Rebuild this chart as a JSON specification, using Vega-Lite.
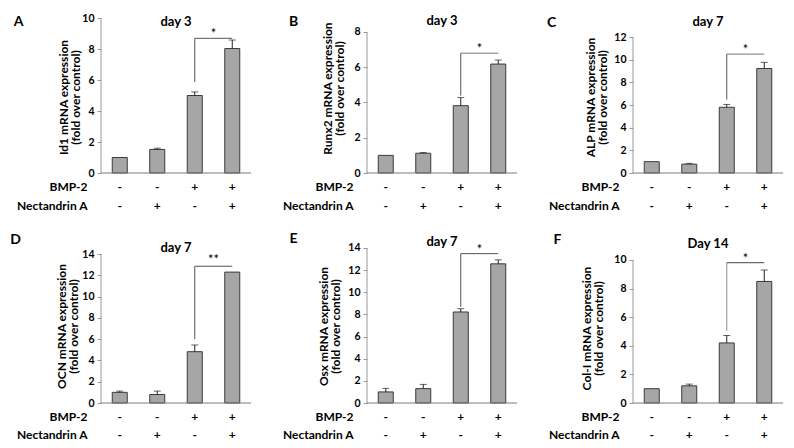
{
  "$schema": "https://vega.github.io/schema/vega-lite/v6.json",
  "autosize": {"type": "none"},
  "padding": {"left": 101, "top": 17, "right": 693, "bottom": 431},
  "background": "white",
  "columns": 3,
  "bounds": "flush",
  "spacing": {"row": 74, "column": 116},
  "datasets": {
    "bars": [
      {"panel": "A", "cond": "-|-", "mean": 1.0, "hi": 1.0},
      {"panel": "A", "cond": "-|+", "mean": 1.52, "hi": 1.6},
      {"panel": "A", "cond": "+|-", "mean": 5.0, "hi": 5.23},
      {"panel": "A", "cond": "+|+", "mean": 8.03, "hi": 8.58},
      {"panel": "B", "cond": "-|-", "mean": 1.0, "hi": 1.0},
      {"panel": "B", "cond": "-|+", "mean": 1.12, "hi": 1.16},
      {"panel": "B", "cond": "+|-", "mean": 3.82, "hi": 4.28},
      {"panel": "B", "cond": "+|+", "mean": 6.18, "hi": 6.41},
      {"panel": "C", "cond": "-|-", "mean": 1.0, "hi": 1.0},
      {"panel": "C", "cond": "-|+", "mean": 0.78, "hi": 0.85},
      {"panel": "C", "cond": "+|-", "mean": 5.8, "hi": 6.05},
      {"panel": "C", "cond": "+|+", "mean": 9.22, "hi": 9.76},
      {"panel": "D", "cond": "-|-", "mean": 1.0, "hi": 1.12},
      {"panel": "D", "cond": "-|+", "mean": 0.8, "hi": 1.12},
      {"panel": "D", "cond": "+|-", "mean": 4.82, "hi": 5.45},
      {"panel": "D", "cond": "+|+", "mean": 12.3, "hi": 12.3},
      {"panel": "E", "cond": "-|-", "mean": 1.0, "hi": 1.32},
      {"panel": "E", "cond": "-|+", "mean": 1.3, "hi": 1.68},
      {"panel": "E", "cond": "+|-", "mean": 8.22, "hi": 8.52},
      {"panel": "E", "cond": "+|+", "mean": 12.57, "hi": 12.93},
      {"panel": "F", "cond": "-|-", "mean": 1.0, "hi": 1.0},
      {"panel": "F", "cond": "-|+", "mean": 1.2, "hi": 1.32},
      {"panel": "F", "cond": "+|-", "mean": 4.2, "hi": 4.72},
      {"panel": "F", "cond": "+|+", "mean": 8.5, "hi": 9.3}
    ],
    "sig": [
      {"panel": "A", "v0": 5.87, "h": 8.69, "star": "*", "day": "day 3"},
      {"panel": "B", "v0": 4.39, "h": 6.8, "star": "*", "day": "day  3"},
      {"panel": "C", "v0": 6.48, "h": 10.49, "star": "*", "day": "day 7"},
      {"panel": "D", "v0": 6.0, "h": 12.85, "star": "**", "day": "day 7"},
      {"panel": "E", "v0": 8.69, "h": 13.49, "star": "*", "day": "day 7"},
      {"panel": "F", "v0": 5.05, "h": 9.81, "star": "*", "day": "Day 14"}
    ]
  },
  "config": {
    "font": "Lato",
    "view": {"stroke": null},
    "text": {"font": "Lato", "color": "#000"},
    "axis": {"labelFont": "Lato", "titleFont": "Lato", "labelFontWeight": "bold", "titleFontWeight": "bold", "labelColor": "#000", "titleColor": "#000", "grid": false, "domainColor": "#9a9a9a", "tickColor": "#9a9a9a", "labelOverlap": false}
  },
  "concat": [
    {
      "width": 150, "height": 156,
      "resolve": {"scale": {"x": "independent"}, "axis": {"y": "independent"}},
      "layer": [
        {"data": {"name": "bars"}, "transform": [{"filter": "datum.panel == 'A'"}],
         "mark": {"type": "bar", "fill": "#a6a6a6", "stroke": "#3a3a3a", "strokeWidth": 1},
         "encoding": {
           "x": {"field": "cond", "type": "nominal", "scale": {"type": "band", "domain": ["-|-", "-|+", "+|-", "+|+"], "paddingInner": 0.6, "paddingOuter": 0.3},
                 "axis": {"title": ["BMP-2", "Nectandrin A"], "labelExpr": "split(datum.label, '|')", "domain": false, "ticks": false, "grid": false, "labelAngle": 0, "labelFont": "Lato", "labelFontWeight": "bold", "labelFontSize": 12, "labelColor": "#000", "labelLineHeight": 18.5, "labelPadding": 8.5, "titleFont": "Lato", "titleFontWeight": "bold", "titleFontSize": 12, "titleColor": "#000", "titleLineHeight": 18.5, "titleAlign": "right", "titleBaseline": "top", "titleAngle": 0, "titleX": -14, "titleY": 8.5}},
           "y": {"field": "mean", "type": "quantitative", "scale": {"domain": [0, 10.065], "nice": false},
                 "axis": {"values": [0, 2, 4, 6, 8, 10], "labelOverlap": false, "domain": false, "ticks": true, "tickSize": 4, "tickColor": "#9a9a9a", "grid": false, "labelFont": "Lato", "labelFontWeight": "bold", "labelFontSize": 10.5, "labelColor": "#000", "labelPadding": 3, "title": ["Id1 mRNA expression", "(fold over control)"], "titleFont": "Lato", "titleFontWeight": "bold", "titleFontSize": 12, "titleColor": "#000", "titleLineHeight": 12, "titleAngle": 270, "titleAlign": "center", "titleBaseline": "middle", "titleX": -38, "titleY": 80}}}},
        {"data": {"name": "sig"}, "transform": [{"filter": "datum.panel == 'A'"}],
         "mark": {"type": "rule", "color": "#9a9a9a"},
         "encoding": {"x": {"datum": 0, "type": "quantitative", "scale": {"domain": [0, 1]}, "axis": null}, "y": {"datum": 0, "type": "quantitative", "axis": null}, "y2": {"datum": 10}}},
        {"data": {"name": "sig"}, "transform": [{"filter": "datum.panel == 'A'"}],
         "mark": {"type": "rule", "color": "#7a7a7a"},
         "encoding": {"x": {"datum": 0, "type": "quantitative", "scale": {"domain": [0, 1]}, "axis": null}, "x2": {"datum": 1}, "y": {"datum": 0, "type": "quantitative", "axis": null}}},
        {"data": {"name": "bars"}, "transform": [{"filter": "datum.panel == 'A' && datum.hi > datum.mean"}],
         "mark": {"type": "rule", "color": "#222"},
         "encoding": {
           "x": {"field": "cond", "type": "nominal", "scale": {"type": "band", "domain": ["-|-", "-|+", "+|-", "+|+"], "paddingInner": 0.6, "paddingOuter": 0.3}, "axis": {"orient": "top", "title": "A", "titleX": -83, "titleY": 4, "labels": false, "ticks": false, "domain": false, "grid": false, "titleFont": "Lato", "titleFontWeight": "bold", "titleFontSize": 14, "titleColor": "#000", "titleAngle": 0, "titleAlign": "center", "titleBaseline": "middle"}},
           "y": {"field": "mean", "type": "quantitative", "axis": null}, "y2": {"field": "hi"}}},
        {"data": {"name": "bars"}, "transform": [{"filter": "datum.panel == 'A' && datum.hi > datum.mean"}],
         "mark": {"type": "tick", "orient": "horizontal", "size": 7, "thickness": 1, "color": "#222"},
         "encoding": {"x": {"field": "cond", "type": "nominal", "scale": {"type": "band", "domain": ["-|-", "-|+", "+|-", "+|+"], "paddingInner": 0.6, "paddingOuter": 0.3}, "axis": null}, "y": {"field": "hi", "type": "quantitative", "axis": null}}},
        {"data": {"name": "sig"}, "transform": [{"filter": "datum.panel == 'A'"}],
         "mark": {"type": "rule", "color": "#555"},
         "encoding": {"x": {"datum": "+|-", "type": "nominal", "bandPosition": 0.5, "scale": {"type": "band", "domain": ["-|-", "-|+", "+|-", "+|+"], "paddingInner": 0.6, "paddingOuter": 0.3}, "axis": null}, "y": {"field": "v0", "type": "quantitative", "axis": null}, "y2": {"field": "h"}}},
        {"data": {"name": "sig"}, "transform": [{"filter": "datum.panel == 'A'"}],
         "mark": {"type": "rule", "color": "#555"},
         "encoding": {"x": {"datum": "+|-", "type": "nominal", "bandPosition": 0.5, "scale": {"type": "band", "domain": ["-|-", "-|+", "+|-", "+|+"], "paddingInner": 0.6, "paddingOuter": 0.3}, "axis": null}, "x2": {"datum": "+|+", "bandPosition": 0.5}, "y": {"field": "h", "type": "quantitative", "axis": null}}},
        {"data": {"name": "sig"}, "transform": [{"filter": "datum.panel == 'A'"}],
         "mark": {"type": "text", "fontSize": 13, "baseline": "alphabetic"},
         "encoding": {"x": {"datum": "+|-", "type": "nominal", "bandPosition": 1.75, "scale": {"type": "band", "domain": ["-|-", "-|+", "+|-", "+|+"], "paddingInner": 0.6, "paddingOuter": 0.3}, "axis": null}, "y": {"field": "h", "type": "quantitative", "axis": null}, "text": {"field": "star"}}},
        {"data": {"name": "sig"}, "transform": [{"filter": "datum.panel == 'A'"}],
         "mark": {"type": "text", "fontSize": 13, "fontWeight": "bold", "baseline": "middle"},
         "encoding": {"y": {"datum": 9.74, "type": "quantitative", "axis": null}, "text": {"field": "day"}}}
      ]
    },
    {
      "width": 150, "height": 156,
      "resolve": {"scale": {"x": "independent"}, "axis": {"y": "independent"}},
      "layer": [
        {"data": {"name": "bars"}, "transform": [{"filter": "datum.panel == 'B'"}],
         "mark": {"type": "bar", "fill": "#a6a6a6", "stroke": "#3a3a3a", "strokeWidth": 1},
         "encoding": {
           "x": {"field": "cond", "type": "nominal", "scale": {"type": "band", "domain": ["-|-", "-|+", "+|-", "+|+"], "paddingInner": 0.6, "paddingOuter": 0.3},
                 "axis": {"title": ["BMP-2", "Nectandrin A"], "labelExpr": "split(datum.label, '|')", "domain": false, "ticks": false, "grid": false, "labelAngle": 0, "labelFont": "Lato", "labelFontWeight": "bold", "labelFontSize": 12, "labelColor": "#000", "labelLineHeight": 18.5, "labelPadding": 8.5, "titleFont": "Lato", "titleFontWeight": "bold", "titleFontSize": 12, "titleColor": "#000", "titleLineHeight": 18.5, "titleAlign": "right", "titleBaseline": "top", "titleAngle": 0, "titleX": -14, "titleY": 8.5}},
           "y": {"field": "mean", "type": "quantitative", "scale": {"domain": [0, 8.851], "nice": false},
                 "axis": {"values": [0, 2, 4, 6, 8], "labelOverlap": false, "domain": false, "ticks": true, "tickSize": 4, "tickColor": "#9a9a9a", "grid": false, "labelFont": "Lato", "labelFontWeight": "bold", "labelFontSize": 10.5, "labelColor": "#000", "labelPadding": 3, "title": ["Runx2 mRNA expression", "(fold over control)"], "titleFont": "Lato", "titleFontWeight": "bold", "titleFontSize": 12, "titleColor": "#000", "titleLineHeight": 12, "titleAngle": 270, "titleAlign": "center", "titleBaseline": "middle", "titleX": -40, "titleY": 71}}}},
        {"data": {"name": "sig"}, "transform": [{"filter": "datum.panel == 'B'"}],
         "mark": {"type": "rule", "color": "#9a9a9a"},
         "encoding": {"x": {"datum": 0, "type": "quantitative", "scale": {"domain": [0, 1]}, "axis": null}, "y": {"datum": 0, "type": "quantitative", "axis": null}, "y2": {"datum": 8}}},
        {"data": {"name": "sig"}, "transform": [{"filter": "datum.panel == 'B'"}],
         "mark": {"type": "rule", "color": "#7a7a7a"},
         "encoding": {"x": {"datum": 0, "type": "quantitative", "scale": {"domain": [0, 1]}, "axis": null}, "x2": {"datum": 1}, "y": {"datum": 0, "type": "quantitative", "axis": null}}},
        {"data": {"name": "bars"}, "transform": [{"filter": "datum.panel == 'B' && datum.hi > datum.mean"}],
         "mark": {"type": "rule", "color": "#222"},
         "encoding": {
           "x": {"field": "cond", "type": "nominal", "scale": {"type": "band", "domain": ["-|-", "-|+", "+|-", "+|+"], "paddingInner": 0.6, "paddingOuter": 0.3}, "axis": {"orient": "top", "title": "B", "titleX": -74, "titleY": 4, "labels": false, "ticks": false, "domain": false, "grid": false, "titleFont": "Lato", "titleFontWeight": "bold", "titleFontSize": 14, "titleColor": "#000", "titleAngle": 0, "titleAlign": "center", "titleBaseline": "middle"}},
           "y": {"field": "mean", "type": "quantitative", "axis": null}, "y2": {"field": "hi"}}},
        {"data": {"name": "bars"}, "transform": [{"filter": "datum.panel == 'B' && datum.hi > datum.mean"}],
         "mark": {"type": "tick", "orient": "horizontal", "size": 7, "thickness": 1, "color": "#222"},
         "encoding": {"x": {"field": "cond", "type": "nominal", "scale": {"type": "band", "domain": ["-|-", "-|+", "+|-", "+|+"], "paddingInner": 0.6, "paddingOuter": 0.3}, "axis": null}, "y": {"field": "hi", "type": "quantitative", "axis": null}}},
        {"data": {"name": "sig"}, "transform": [{"filter": "datum.panel == 'B'"}],
         "mark": {"type": "rule", "color": "#555"},
         "encoding": {"x": {"datum": "+|-", "type": "nominal", "bandPosition": 0.5, "scale": {"type": "band", "domain": ["-|-", "-|+", "+|-", "+|+"], "paddingInner": 0.6, "paddingOuter": 0.3}, "axis": null}, "y": {"field": "v0", "type": "quantitative", "axis": null}, "y2": {"field": "h"}}},
        {"data": {"name": "sig"}, "transform": [{"filter": "datum.panel == 'B'"}],
         "mark": {"type": "rule", "color": "#777"},
         "encoding": {"x": {"datum": "+|-", "type": "nominal", "bandPosition": 0.5, "scale": {"type": "band", "domain": ["-|-", "-|+", "+|-", "+|+"], "paddingInner": 0.6, "paddingOuter": 0.3}, "axis": null}, "x2": {"datum": "+|+", "bandPosition": 0.5}, "y": {"field": "h", "type": "quantitative", "axis": null}}},
        {"data": {"name": "sig"}, "transform": [{"filter": "datum.panel == 'B'"}],
         "mark": {"type": "text", "fontSize": 13, "baseline": "alphabetic"},
         "encoding": {"x": {"datum": "+|-", "type": "nominal", "bandPosition": 1.75, "scale": {"type": "band", "domain": ["-|-", "-|+", "+|-", "+|+"], "paddingInner": 0.6, "paddingOuter": 0.3}, "axis": null}, "y": {"field": "h", "type": "quantitative", "axis": null}, "text": {"field": "star"}}},
        {"data": {"name": "sig"}, "transform": [{"filter": "datum.panel == 'B'"}],
         "mark": {"type": "text", "fontSize": 13, "fontWeight": "bold", "baseline": "middle"},
         "encoding": {"y": {"datum": 8.62, "type": "quantitative", "axis": null}, "text": {"field": "day"}}}
      ]
    },
    {
      "width": 150, "height": 156,
      "resolve": {"scale": {"x": "independent"}, "axis": {"y": "independent"}},
      "layer": [
        {"data": {"name": "bars"}, "transform": [{"filter": "datum.panel == 'C'"}],
         "mark": {"type": "bar", "fill": "#a6a6a6", "stroke": "#3a3a3a", "strokeWidth": 1},
         "encoding": {
           "x": {"field": "cond", "type": "nominal", "scale": {"type": "band", "domain": ["-|-", "-|+", "+|-", "+|+"], "paddingInner": 0.6, "paddingOuter": 0.3},
                 "axis": {"title": ["BMP-2", "Nectandrin A"], "labelExpr": "split(datum.label, '|')", "domain": false, "ticks": false, "grid": false, "labelAngle": 0, "labelFont": "Lato", "labelFontWeight": "bold", "labelFontSize": 12, "labelColor": "#000", "labelLineHeight": 18.5, "labelPadding": 8.5, "titleFont": "Lato", "titleFontWeight": "bold", "titleFontSize": 12, "titleColor": "#000", "titleLineHeight": 18.5, "titleAlign": "right", "titleBaseline": "top", "titleAngle": 0, "titleX": -14, "titleY": 8.5}},
           "y": {"field": "mean", "type": "quantitative", "scale": {"domain": [0, 13.765], "nice": false},
                 "axis": {"values": [0, 2, 4, 6, 8, 10, 12], "labelOverlap": false, "domain": false, "ticks": true, "tickSize": 4, "tickColor": "#9a9a9a", "grid": false, "labelFont": "Lato", "labelFontWeight": "bold", "labelFontSize": 10.5, "labelColor": "#000", "labelPadding": 3, "title": ["ALP mRNA expression", "(fold over control)"], "titleFont": "Lato", "titleFontWeight": "bold", "titleFontSize": 12, "titleColor": "#000", "titleLineHeight": 12, "titleAngle": 270, "titleAlign": "center", "titleBaseline": "middle", "titleX": -43, "titleY": 80}}}},
        {"data": {"name": "sig"}, "transform": [{"filter": "datum.panel == 'C'"}],
         "mark": {"type": "rule", "color": "#9a9a9a"},
         "encoding": {"x": {"datum": 0, "type": "quantitative", "scale": {"domain": [0, 1]}, "axis": null}, "y": {"datum": 0, "type": "quantitative", "axis": null}, "y2": {"datum": 12}}},
        {"data": {"name": "sig"}, "transform": [{"filter": "datum.panel == 'C'"}],
         "mark": {"type": "rule", "color": "#7a7a7a"},
         "encoding": {"x": {"datum": 0, "type": "quantitative", "scale": {"domain": [0, 1]}, "axis": null}, "x2": {"datum": 1}, "y": {"datum": 0, "type": "quantitative", "axis": null}}},
        {"data": {"name": "bars"}, "transform": [{"filter": "datum.panel == 'C' && datum.hi > datum.mean"}],
         "mark": {"type": "rule", "color": "#222"},
         "encoding": {
           "x": {"field": "cond", "type": "nominal", "scale": {"type": "band", "domain": ["-|-", "-|+", "+|-", "+|+"], "paddingInner": 0.6, "paddingOuter": 0.3}, "axis": {"orient": "top", "title": "C", "titleX": -82, "titleY": 5, "labels": false, "ticks": false, "domain": false, "grid": false, "titleFont": "Lato", "titleFontWeight": "bold", "titleFontSize": 14, "titleColor": "#000", "titleAngle": 0, "titleAlign": "center", "titleBaseline": "middle"}},
           "y": {"field": "mean", "type": "quantitative", "axis": null}, "y2": {"field": "hi"}}},
        {"data": {"name": "bars"}, "transform": [{"filter": "datum.panel == 'C' && datum.hi > datum.mean"}],
         "mark": {"type": "tick", "orient": "horizontal", "size": 7, "thickness": 1, "color": "#222"},
         "encoding": {"x": {"field": "cond", "type": "nominal", "scale": {"type": "band", "domain": ["-|-", "-|+", "+|-", "+|+"], "paddingInner": 0.6, "paddingOuter": 0.3}, "axis": null}, "y": {"field": "hi", "type": "quantitative", "axis": null}}},
        {"data": {"name": "sig"}, "transform": [{"filter": "datum.panel == 'C'"}],
         "mark": {"type": "rule", "color": "#555"},
         "encoding": {"x": {"datum": "+|-", "type": "nominal", "bandPosition": 0.5, "scale": {"type": "band", "domain": ["-|-", "-|+", "+|-", "+|+"], "paddingInner": 0.6, "paddingOuter": 0.3}, "axis": null}, "y": {"field": "v0", "type": "quantitative", "axis": null}, "y2": {"field": "h"}}},
        {"data": {"name": "sig"}, "transform": [{"filter": "datum.panel == 'C'"}],
         "mark": {"type": "rule", "color": "#777"},
         "encoding": {"x": {"datum": "+|-", "type": "nominal", "bandPosition": 0.5, "scale": {"type": "band", "domain": ["-|-", "-|+", "+|-", "+|+"], "paddingInner": 0.6, "paddingOuter": 0.3}, "axis": null}, "x2": {"datum": "+|+", "bandPosition": 0.5}, "y": {"field": "h", "type": "quantitative", "axis": null}}},
        {"data": {"name": "sig"}, "transform": [{"filter": "datum.panel == 'C'"}],
         "mark": {"type": "text", "fontSize": 13, "baseline": "alphabetic"},
         "encoding": {"x": {"datum": "+|-", "type": "nominal", "bandPosition": 1.75, "scale": {"type": "band", "domain": ["-|-", "-|+", "+|-", "+|+"], "paddingInner": 0.6, "paddingOuter": 0.3}, "axis": null}, "y": {"field": "h", "type": "quantitative", "axis": null}, "text": {"field": "star"}}},
        {"data": {"name": "sig"}, "transform": [{"filter": "datum.panel == 'C'"}],
         "mark": {"type": "text", "fontSize": 13, "fontWeight": "bold", "baseline": "middle"},
         "encoding": {"y": {"datum": 13.32, "type": "quantitative", "axis": null}, "text": {"field": "day"}}}
      ]
    },
    {
      "width": 150, "height": 156,
      "resolve": {"scale": {"x": "independent"}, "axis": {"y": "independent"}},
      "layer": [
        {"data": {"name": "bars"}, "transform": [{"filter": "datum.panel == 'D'"}],
         "mark": {"type": "bar", "fill": "#a6a6a6", "stroke": "#3a3a3a", "strokeWidth": 1},
         "encoding": {
           "x": {"field": "cond", "type": "nominal", "scale": {"type": "band", "domain": ["-|-", "-|+", "+|-", "+|+"], "paddingInner": 0.6, "paddingOuter": 0.3},
                 "axis": {"title": ["BMP-2", "Nectandrin A"], "labelExpr": "split(datum.label, '|')", "domain": false, "ticks": false, "grid": false, "labelAngle": 0, "labelFont": "Lato", "labelFontWeight": "bold", "labelFontSize": 12, "labelColor": "#000", "labelLineHeight": 18.5, "labelPadding": 8, "titleFont": "Lato", "titleFontWeight": "bold", "titleFontSize": 12, "titleColor": "#000", "titleLineHeight": 18.5, "titleAlign": "right", "titleBaseline": "top", "titleAngle": 0, "titleX": -14, "titleY": 8}},
           "y": {"field": "mean", "type": "quantitative", "scale": {"domain": [0, 14.658], "nice": false},
                 "axis": {"values": [0, 2, 4, 6, 8, 10, 12, 14], "labelOverlap": false, "domain": false, "ticks": true, "tickSize": 4, "tickColor": "#9a9a9a", "grid": false, "labelFont": "Lato", "labelFontWeight": "bold", "labelFontSize": 10.5, "labelColor": "#000", "labelPadding": 3, "title": ["OCN mRNA expression", "(fold over control)"], "titleFont": "Lato", "titleFontWeight": "bold", "titleFontSize": 12, "titleColor": "#000", "titleLineHeight": 12, "titleAngle": 270, "titleAlign": "center", "titleBaseline": "middle", "titleX": -40, "titleY": 79}}}},
        {"data": {"name": "sig"}, "transform": [{"filter": "datum.panel == 'D'"}],
         "mark": {"type": "rule", "color": "#9a9a9a"},
         "encoding": {"x": {"datum": 0, "type": "quantitative", "scale": {"domain": [0, 1]}, "axis": null}, "y": {"datum": 0, "type": "quantitative", "axis": null}, "y2": {"datum": 14}}},
        {"data": {"name": "sig"}, "transform": [{"filter": "datum.panel == 'D'"}],
         "mark": {"type": "rule", "color": "#7a7a7a"},
         "encoding": {"x": {"datum": 0, "type": "quantitative", "scale": {"domain": [0, 1]}, "axis": null}, "x2": {"datum": 1}, "y": {"datum": 0, "type": "quantitative", "axis": null}}},
        {"data": {"name": "bars"}, "transform": [{"filter": "datum.panel == 'D' && datum.hi > datum.mean"}],
         "mark": {"type": "rule", "color": "#222"},
         "encoding": {
           "x": {"field": "cond", "type": "nominal", "scale": {"type": "band", "domain": ["-|-", "-|+", "+|-", "+|+"], "paddingInner": 0.6, "paddingOuter": 0.3}, "axis": {"orient": "top", "title": "D", "titleX": -86, "titleY": -8, "labels": false, "ticks": false, "domain": false, "grid": false, "titleFont": "Lato", "titleFontWeight": "bold", "titleFontSize": 14, "titleColor": "#000", "titleAngle": 0, "titleAlign": "center", "titleBaseline": "middle"}},
           "y": {"field": "mean", "type": "quantitative", "axis": null}, "y2": {"field": "hi"}}},
        {"data": {"name": "bars"}, "transform": [{"filter": "datum.panel == 'D' && datum.hi > datum.mean"}],
         "mark": {"type": "tick", "orient": "horizontal", "size": 7, "thickness": 1, "color": "#222"},
         "encoding": {"x": {"field": "cond", "type": "nominal", "scale": {"type": "band", "domain": ["-|-", "-|+", "+|-", "+|+"], "paddingInner": 0.6, "paddingOuter": 0.3}, "axis": null}, "y": {"field": "hi", "type": "quantitative", "axis": null}}},
        {"data": {"name": "sig"}, "transform": [{"filter": "datum.panel == 'D'"}],
         "mark": {"type": "rule", "color": "#555"},
         "encoding": {"x": {"datum": "+|-", "type": "nominal", "bandPosition": 0.5, "scale": {"type": "band", "domain": ["-|-", "-|+", "+|-", "+|+"], "paddingInner": 0.6, "paddingOuter": 0.3}, "axis": null}, "y": {"field": "v0", "type": "quantitative", "axis": null}, "y2": {"field": "h"}}},
        {"data": {"name": "sig"}, "transform": [{"filter": "datum.panel == 'D'"}],
         "mark": {"type": "rule", "color": "#555"},
         "encoding": {"x": {"datum": "+|-", "type": "nominal", "bandPosition": 0.5, "scale": {"type": "band", "domain": ["-|-", "-|+", "+|-", "+|+"], "paddingInner": 0.6, "paddingOuter": 0.3}, "axis": null}, "x2": {"datum": "+|+", "bandPosition": 0.5}, "y": {"field": "h", "type": "quantitative", "axis": null}}},
        {"data": {"name": "sig"}, "transform": [{"filter": "datum.panel == 'D'"}],
         "mark": {"type": "text", "fontSize": 13, "baseline": "alphabetic", "dy": -2},
         "encoding": {"x": {"datum": "+|-", "type": "nominal", "bandPosition": 1.75, "scale": {"type": "band", "domain": ["-|-", "-|+", "+|-", "+|+"], "paddingInner": 0.6, "paddingOuter": 0.3}, "axis": null}, "y": {"field": "h", "type": "quantitative", "axis": null}, "text": {"field": "star"}}},
        {"data": {"name": "sig"}, "transform": [{"filter": "datum.panel == 'D'"}],
         "mark": {"type": "text", "fontSize": 13, "fontWeight": "bold", "baseline": "middle"},
         "encoding": {"y": {"datum": 14.56, "type": "quantitative", "axis": null}, "text": {"field": "day"}}}
      ]
    },
    {
      "width": 150, "height": 156,
      "resolve": {"scale": {"x": "independent"}, "axis": {"y": "independent"}},
      "layer": [
        {"data": {"name": "bars"}, "transform": [{"filter": "datum.panel == 'E'"}],
         "mark": {"type": "bar", "fill": "#a6a6a6", "stroke": "#3a3a3a", "strokeWidth": 1},
         "encoding": {
           "x": {"field": "cond", "type": "nominal", "scale": {"type": "band", "domain": ["-|-", "-|+", "+|-", "+|+"], "paddingInner": 0.6, "paddingOuter": 0.3},
                 "axis": {"title": ["BMP-2", "Nectandrin A"], "labelExpr": "split(datum.label, '|')", "domain": false, "ticks": false, "grid": false, "labelAngle": 0, "labelFont": "Lato", "labelFontWeight": "bold", "labelFontSize": 12, "labelColor": "#000", "labelLineHeight": 18.5, "labelPadding": 8, "titleFont": "Lato", "titleFontWeight": "bold", "titleFontSize": 12, "titleColor": "#000", "titleLineHeight": 18.5, "titleAlign": "right", "titleBaseline": "top", "titleAngle": 0, "titleX": -14, "titleY": 8}},
           "y": {"field": "mean", "type": "quantitative", "scale": {"domain": [0, 14.09], "nice": false},
                 "axis": {"values": [0, 2, 4, 6, 8, 10, 12, 14], "labelOverlap": false, "domain": false, "ticks": true, "tickSize": 4, "tickColor": "#9a9a9a", "grid": false, "labelFont": "Lato", "labelFontWeight": "bold", "labelFontSize": 10.5, "labelColor": "#000", "labelPadding": 3, "title": ["Osx mRNA expression", "(fold over control)"], "titleFont": "Lato", "titleFontWeight": "bold", "titleFontSize": 12, "titleColor": "#000", "titleLineHeight": 12, "titleAngle": 270, "titleAlign": "center", "titleBaseline": "middle", "titleX": -44, "titleY": 79}}}},
        {"data": {"name": "sig"}, "transform": [{"filter": "datum.panel == 'E'"}],
         "mark": {"type": "rule", "color": "#9a9a9a"},
         "encoding": {"x": {"datum": 0, "type": "quantitative", "scale": {"domain": [0, 1]}, "axis": null}, "y": {"datum": 0, "type": "quantitative", "axis": null}, "y2": {"datum": 14}}},
        {"data": {"name": "sig"}, "transform": [{"filter": "datum.panel == 'E'"}],
         "mark": {"type": "rule", "color": "#7a7a7a"},
         "encoding": {"x": {"datum": 0, "type": "quantitative", "scale": {"domain": [0, 1]}, "axis": null}, "x2": {"datum": 1}, "y": {"datum": 0, "type": "quantitative", "axis": null}}},
        {"data": {"name": "bars"}, "transform": [{"filter": "datum.panel == 'E' && datum.hi > datum.mean"}],
         "mark": {"type": "rule", "color": "#222"},
         "encoding": {
           "x": {"field": "cond", "type": "nominal", "scale": {"type": "band", "domain": ["-|-", "-|+", "+|-", "+|+"], "paddingInner": 0.6, "paddingOuter": 0.3}, "axis": {"orient": "top", "title": "E", "titleX": -74, "titleY": -9, "labels": false, "ticks": false, "domain": false, "grid": false, "titleFont": "Lato", "titleFontWeight": "bold", "titleFontSize": 14, "titleColor": "#000", "titleAngle": 0, "titleAlign": "center", "titleBaseline": "middle"}},
           "y": {"field": "mean", "type": "quantitative", "axis": null}, "y2": {"field": "hi"}}},
        {"data": {"name": "bars"}, "transform": [{"filter": "datum.panel == 'E' && datum.hi > datum.mean"}],
         "mark": {"type": "tick", "orient": "horizontal", "size": 7, "thickness": 1, "color": "#222"},
         "encoding": {"x": {"field": "cond", "type": "nominal", "scale": {"type": "band", "domain": ["-|-", "-|+", "+|-", "+|+"], "paddingInner": 0.6, "paddingOuter": 0.3}, "axis": null}, "y": {"field": "hi", "type": "quantitative", "axis": null}}},
        {"data": {"name": "sig"}, "transform": [{"filter": "datum.panel == 'E'"}],
         "mark": {"type": "rule", "color": "#555"},
         "encoding": {"x": {"datum": "+|-", "type": "nominal", "bandPosition": 0.5, "scale": {"type": "band", "domain": ["-|-", "-|+", "+|-", "+|+"], "paddingInner": 0.6, "paddingOuter": 0.3}, "axis": null}, "y": {"field": "v0", "type": "quantitative", "axis": null}, "y2": {"field": "h"}}},
        {"data": {"name": "sig"}, "transform": [{"filter": "datum.panel == 'E'"}],
         "mark": {"type": "rule", "color": "#555"},
         "encoding": {"x": {"datum": "+|-", "type": "nominal", "bandPosition": 0.5, "scale": {"type": "band", "domain": ["-|-", "-|+", "+|-", "+|+"], "paddingInner": 0.6, "paddingOuter": 0.3}, "axis": null}, "x2": {"datum": "+|+", "bandPosition": 0.5}, "y": {"field": "h", "type": "quantitative", "axis": null}}},
        {"data": {"name": "sig"}, "transform": [{"filter": "datum.panel == 'E'"}],
         "mark": {"type": "text", "fontSize": 13, "baseline": "alphabetic"},
         "encoding": {"x": {"datum": "+|-", "type": "nominal", "bandPosition": 1.75, "scale": {"type": "band", "domain": ["-|-", "-|+", "+|-", "+|+"], "paddingInner": 0.6, "paddingOuter": 0.3}, "axis": null}, "y": {"field": "h", "type": "quantitative", "axis": null}, "text": {"field": "star"}}},
        {"data": {"name": "sig"}, "transform": [{"filter": "datum.panel == 'E'"}],
         "mark": {"type": "text", "fontSize": 13, "fontWeight": "bold", "baseline": "middle"},
         "encoding": {"y": {"datum": 14.54, "type": "quantitative", "axis": null}, "text": {"field": "day"}}}
      ]
    },
    {
      "width": 150, "height": 156,
      "resolve": {"scale": {"x": "independent"}, "axis": {"y": "independent"}},
      "layer": [
        {"data": {"name": "bars"}, "transform": [{"filter": "datum.panel == 'F'"}],
         "mark": {"type": "bar", "fill": "#a6a6a6", "stroke": "#3a3a3a", "strokeWidth": 1},
         "encoding": {
           "x": {"field": "cond", "type": "nominal", "scale": {"type": "band", "domain": ["-|-", "-|+", "+|-", "+|+"], "paddingInner": 0.6, "paddingOuter": 0.3},
                 "axis": {"title": ["BMP-2", "Nectandrin A"], "labelExpr": "split(datum.label, '|')", "domain": false, "ticks": false, "grid": false, "labelAngle": 0, "labelFont": "Lato", "labelFontWeight": "bold", "labelFontSize": 12, "labelColor": "#000", "labelLineHeight": 18.5, "labelPadding": 8, "titleFont": "Lato", "titleFontWeight": "bold", "titleFontSize": 12, "titleColor": "#000", "titleLineHeight": 18.5, "titleAlign": "right", "titleBaseline": "top", "titleAngle": 0, "titleX": -14, "titleY": 8}},
           "y": {"field": "mean", "type": "quantitative", "scale": {"domain": [0, 10.909], "nice": false},
                 "axis": {"values": [0, 2, 4, 6, 8, 10], "labelOverlap": false, "domain": false, "ticks": true, "tickSize": 4, "tickColor": "#9a9a9a", "grid": false, "labelFont": "Lato", "labelFontWeight": "bold", "labelFontSize": 10.5, "labelColor": "#000", "labelPadding": 3, "title": ["Col-I mRNA expression", "(fold over control)"], "titleFont": "Lato", "titleFontWeight": "bold", "titleFontSize": 12, "titleColor": "#000", "titleLineHeight": 12, "titleAngle": 270, "titleAlign": "center", "titleBaseline": "middle", "titleX": -47, "titleY": 81}}}},
        {"data": {"name": "sig"}, "transform": [{"filter": "datum.panel == 'F'"}],
         "mark": {"type": "rule", "color": "#9a9a9a"},
         "encoding": {"x": {"datum": 0, "type": "quantitative", "scale": {"domain": [0, 1]}, "axis": null}, "y": {"datum": 0, "type": "quantitative", "axis": null}, "y2": {"datum": 10}}},
        {"data": {"name": "sig"}, "transform": [{"filter": "datum.panel == 'F'"}],
         "mark": {"type": "rule", "color": "#7a7a7a"},
         "encoding": {"x": {"datum": 0, "type": "quantitative", "scale": {"domain": [0, 1]}, "axis": null}, "x2": {"datum": 1}, "y": {"datum": 0, "type": "quantitative", "axis": null}}},
        {"data": {"name": "bars"}, "transform": [{"filter": "datum.panel == 'F' && datum.hi > datum.mean"}],
         "mark": {"type": "rule", "color": "#222"},
         "encoding": {
           "x": {"field": "cond", "type": "nominal", "scale": {"type": "band", "domain": ["-|-", "-|+", "+|-", "+|+"], "paddingInner": 0.6, "paddingOuter": 0.3}, "axis": {"orient": "top", "title": "F", "titleX": -76, "titleY": -8, "labels": false, "ticks": false, "domain": false, "grid": false, "titleFont": "Lato", "titleFontWeight": "bold", "titleFontSize": 14, "titleColor": "#000", "titleAngle": 0, "titleAlign": "center", "titleBaseline": "middle"}},
           "y": {"field": "mean", "type": "quantitative", "axis": null}, "y2": {"field": "hi"}}},
        {"data": {"name": "bars"}, "transform": [{"filter": "datum.panel == 'F' && datum.hi > datum.mean"}],
         "mark": {"type": "tick", "orient": "horizontal", "size": 7, "thickness": 1, "color": "#222"},
         "encoding": {"x": {"field": "cond", "type": "nominal", "scale": {"type": "band", "domain": ["-|-", "-|+", "+|-", "+|+"], "paddingInner": 0.6, "paddingOuter": 0.3}, "axis": null}, "y": {"field": "hi", "type": "quantitative", "axis": null}}},
        {"data": {"name": "sig"}, "transform": [{"filter": "datum.panel == 'F'"}],
         "mark": {"type": "rule", "color": "#888"},
         "encoding": {"x": {"datum": "+|-", "type": "nominal", "bandPosition": 0.5, "scale": {"type": "band", "domain": ["-|-", "-|+", "+|-", "+|+"], "paddingInner": 0.6, "paddingOuter": 0.3}, "axis": null}, "y": {"field": "v0", "type": "quantitative", "axis": null}, "y2": {"field": "h"}}},
        {"data": {"name": "sig"}, "transform": [{"filter": "datum.panel == 'F'"}],
         "mark": {"type": "rule", "color": "#444"},
         "encoding": {"x": {"datum": "+|-", "type": "nominal", "bandPosition": 0.5, "scale": {"type": "band", "domain": ["-|-", "-|+", "+|-", "+|+"], "paddingInner": 0.6, "paddingOuter": 0.3}, "axis": null}, "x2": {"datum": "+|+", "bandPosition": 0.5}, "y": {"field": "h", "type": "quantitative", "axis": null}}},
        {"data": {"name": "sig"}, "transform": [{"filter": "datum.panel == 'F'"}],
         "mark": {"type": "text", "fontSize": 13, "baseline": "alphabetic"},
         "encoding": {"x": {"datum": "+|-", "type": "nominal", "bandPosition": 1.75, "scale": {"type": "band", "domain": ["-|-", "-|+", "+|-", "+|+"], "paddingInner": 0.6, "paddingOuter": 0.3}, "axis": null}, "y": {"field": "h", "type": "quantitative", "axis": null}, "text": {"field": "star"}}},
        {"data": {"name": "sig"}, "transform": [{"filter": "datum.panel == 'F'"}],
         "mark": {"type": "text", "fontSize": 13, "fontWeight": "bold", "baseline": "middle"},
         "encoding": {"y": {"datum": 11.12, "type": "quantitative", "axis": null}, "text": {"field": "day"}}}
      ]
    }
  ]
}
